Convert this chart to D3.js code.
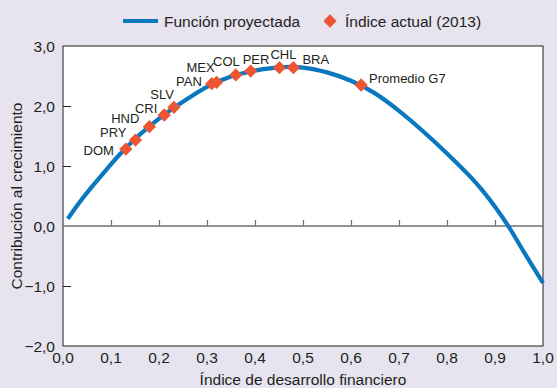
<!DOCTYPE html>
<html><head><meta charset="utf-8">
<script src="https://cdn.jsdelivr.net/npm/d3@7"></script>
<style>
html,body{margin:0;padding:0;background:#E7E3EF;}
svg{display:block;font-family:"Liberation Sans",Arial,sans-serif;}
</style></head>
<body>
<svg id="c" width="557" height="388"></svg>
<script>
// Projected function
const curveX = [0.01,0.035,0.063,0.091,0.119,0.15,0.18,0.21,0.25,0.30,0.35,0.40,0.45,0.50,0.55,0.60,0.65,0.70,0.75,0.80,0.85,0.875,0.90,0.93,0.96,1.00];
const curveY = [0.12,0.40,0.68,0.945,1.20,1.45,1.66,1.85,2.07,2.32,2.49,2.59,2.645,2.64,2.56,2.42,2.21,1.92,1.58,1.21,0.81,0.58,0.32,-0.03,-0.43,-0.95];
// Current index (2013)
const countries = ["DOM","PRY","HND","CRI","SLV","PAN","MEX","COL","PER","CHL","BRA","Promedio G7"];
const countryX = [0.131,0.151,0.180,0.211,0.231,0.310,0.320,0.360,0.391,0.451,0.480,0.621];
const countryY = [1.283,1.433,1.655,1.850,1.978,2.372,2.395,2.517,2.583,2.638,2.638,2.350];
const xTicks = [0,0.1,0.2,0.3,0.4,0.5,0.6,0.7,0.8,0.9,1.0];
const yTicks = [-2,-1,0,1,2,3];
const legendLabels = ["Función proyectada","Índice actual (2013)"];
const xTitle = "Índice de desarrollo financiero";
const yTitle = "Contribución al crecimiento";

// label placement (style)
const labelPos = {
  "DOM":[-12,1,"end"],"PRY":[-9,-8,"end"],"HND":[-10,-8,"end"],"CRI":[-7,-7,"end"],
  "SLV":[0,-13,"end"],"PAN":[-10,-2,"end"],"MEX":[-2,-15,"end"],"COL":[4,-13,"end"],
  "PER":[-8,-12,"start"],"CHL":[-9,-13,"start"],"BRA":[9,-8,"start"],"Promedio G7":[8,-7,"start"]
};

const blue="#0A78BE", orange="#EE5533", ink="#231F20";
const svg=d3.select("#c");
const L=63,R=543,T=46,B=346;
const x=d3.scaleLinear().domain([0,1]).range([L,R]);
const y=d3.scaleLinear().domain([-2,3]).range([B,T]);
const fmt=v=>d3.format(".1f")(v).replace(".",",").replace("-","\u2013");

svg.append("rect").attr("x",L).attr("y",T).attr("width",R-L).attr("height",B-T)
  .attr("fill","#fff").attr("stroke",ink).attr("stroke-width",1);

// zero line + x ticks
svg.append("line").attr("x1",L).attr("x2",R).attr("y1",y(0)).attr("y2",y(0))
  .attr("stroke","#6D6E71").attr("stroke-width",1.5);
const xAxis=d3.axisTop(x).tickValues(xTicks.filter(v=>v>0&&v<1)).tickSize(6).tickFormat("");
svg.append("g").attr("transform",`translate(0,${y(0)})`).call(xAxis)
  .call(g=>g.select(".domain").remove())
  .call(g=>g.selectAll("line").attr("stroke","#6D6E71").attr("stroke-width",1.2));
// x tick labels
svg.append("g").selectAll("text").data(xTicks).join("text")
  .attr("x",d=>x(d)).attr("y",357).attr("text-anchor","middle").attr("dominant-baseline","central")
  .attr("font-size",15.5).attr("fill",ink).text(fmt);
// y ticks inward
const yAxis=d3.axisRight(y).tickValues(yTicks.filter(v=>v>-2&&v<3&&v!==0)).tickSize(8).tickFormat("");
svg.append("g").attr("transform",`translate(${L},0)`).call(yAxis)
  .call(g=>g.select(".domain").remove())
  .call(g=>g.selectAll("line").attr("stroke",ink).attr("stroke-width",1));
svg.append("g").selectAll("text").data(yTicks).join("text")
  .attr("x",55).attr("y",d=>y(d)).attr("text-anchor","end").attr("dominant-baseline","central")
  .attr("font-size",15.5).attr("fill",ink).text(fmt);

// titles
svg.append("text").attr("x",(L+R)/2).attr("y",379).attr("text-anchor","middle").attr("dominant-baseline","central")
  .attr("font-size",15.5).attr("fill",ink).text(xTitle);
svg.append("text").attr("transform",`translate(16,${(T+B)/2}) rotate(-90)`).attr("text-anchor","middle")
  .attr("dominant-baseline","central").attr("font-size",15.5).attr("fill",ink).text(yTitle);

// curve
const pts=curveX.map((v,i)=>[v,curveY[i]]);
svg.append("path").datum(pts).attr("fill","none").attr("stroke",blue).attr("stroke-width",4.2)
  .attr("d",d3.line().x(d=>x(d[0])).y(d=>y(d[1])).curve(d3.curveCatmullRom.alpha(0.5)));

// diamonds
const diamond=d3.symbol(d3.symbolSquare).size(88);
svg.append("g").selectAll("path").data(countries).join("path")
  .attr("transform",(d,i)=>`translate(${x(countryX[i])},${y(countryY[i])}) rotate(45)`)
  .attr("d",diamond).attr("fill",orange);
svg.append("g").selectAll("text").data(countries).join("text")
  .attr("x",(d,i)=>x(countryX[i])+labelPos[d][0]).attr("y",(d,i)=>y(countryY[i])+labelPos[d][1])
  .attr("text-anchor",d=>labelPos[d][2]).attr("dominant-baseline","central")
  .attr("font-size",13).attr("fill",ink).text(d=>d);

// legend
const lg=svg.append("g");
lg.append("line").attr("x1",123).attr("x2",158).attr("y1",21).attr("y2",21).attr("stroke",blue).attr("stroke-width",4);
lg.append("text").attr("x",164).attr("y",21).attr("dominant-baseline","central").attr("font-size",15.5).attr("fill",ink).text(legendLabels[0]);
lg.append("path").attr("transform","translate(330,21) rotate(45)").attr("d",diamond).attr("fill",orange);
lg.append("text").attr("x",345).attr("y",21).attr("dominant-baseline","central").attr("font-size",15.5).attr("fill",ink).text(legendLabels[1]);
</script>
</body></html>
